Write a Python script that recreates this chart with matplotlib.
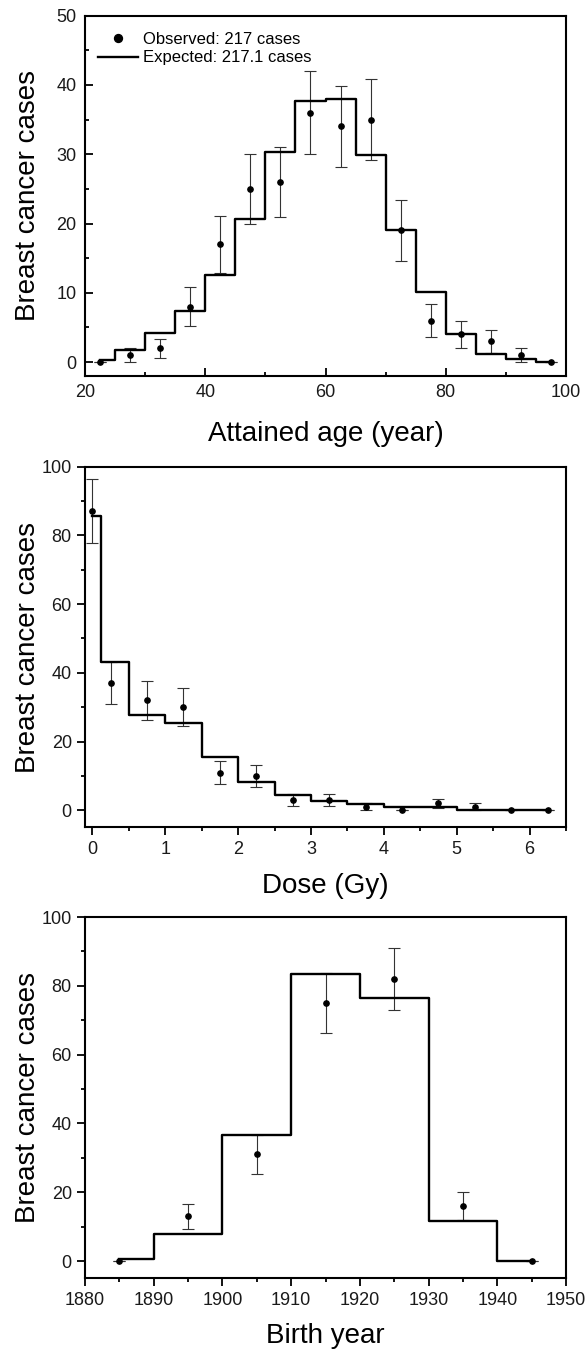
import matplotlib
matplotlib.use('Agg')
from matplotlib import pyplot as plt
from matplotlib.ticker import MultipleLocator

plt.rcParams['font.family'] = ['Liberation Sans', 'DejaVu Sans']

# attained age
age_x = [22.5, 27.5, 32.5, 37.5, 42.5, 47.5, 52.5, 57.5, 62.5, 67.5, 72.5, 77.5, 82.5, 87.5, 92.5, 97.5]
age_obs = [0, 1, 2, 8, 17, 25, 26, 36, 34, 35, 19, 6, 4, 3, 1, 0]
age_err = [0, 1, 1.4, 2.8, 4.1, 5, 5.1, 6, 5.8, 5.9, 4.4, 2.4, 2, 1.7, 1, 0]
age_exp = [0.3, 1.8, 4.2, 7.4, 12.6, 20.6, 30.3, 37.7, 38.0, 29.9, 19.0, 10.1, 4.1, 1.2, 0.4, 0.0]

# dose
dose_x = [0, 0.25, 0.75, 1.25, 1.75, 2.25, 2.75, 3.25, 3.75, 4.25, 4.75, 5.25, 5.75, 6.25]
dose_obs = [87, 37, 32, 30, 11, 10, 3, 3, 1, 0, 2, 1, 0, 0]
dose_err = [9.3, 6.1, 5.7, 5.5, 3.3, 3.2, 1.7, 1.7, 1, 0, 1.4, 1, 0, 0]
dose_exp = [85.7, 43.3, 27.7, 25.4, 15.5, 8.3, 4.4, 2.8, 1.7, 0.9, 0.85, 0.2, 0.05, 0.15]

# birth year
birth_x = [1885, 1895, 1905, 1915, 1925, 1935, 1945]
birth_obs = [0, 13, 31, 75, 82, 16, 0]
birth_err = [0, 3.6, 5.6, 8.7, 9.1, 4, 0]
birth_exp = [0.6, 7.9, 36.8, 83.5, 76.6, 11.7, 0.0]

n_obs = 217
n_exp = 217.1

fig = plt.figure(figsize=(5.88, 13.53), dpi=100)
ax1 = fig.add_axes([0.1446, 0.7221, 0.818, 0.2664])
ax2 = fig.add_axes([0.1446, 0.3884, 0.818, 0.2667])
ax3 = fig.add_axes([0.1446, 0.0552, 0.818, 0.2670])


def panel(ax, x, obs, err, exp, xlabel, tick_dir):
    ax.errorbar(x, obs, yerr=err, fmt='none', ecolor='#333333', elinewidth=0.8,
                capsize=4, capthick=0.8, zorder=2)
    ax.plot(x, exp, drawstyle='steps-mid', color='black', lw=1.7, zorder=3,
            label=f'Expected: {n_exp} cases')
    ax.plot(x, obs, 'o', color='black', ms=3.8, zorder=4,
            label=f'Observed: {n_obs} cases')
    for s in ax.spines.values():
        s.set_linewidth(1.5)
    ax.tick_params(which='both', direction=tick_dir, width=1.3, labelsize=13,
                   colors='black', labelcolor='#1a1a1a')
    ax.tick_params(which='major', length=5.5)
    ax.tick_params(which='minor', length=3)
    if tick_dir == 'in':
        ax.tick_params(which='major', pad=6)
    else:
        ax.tick_params(which='major', pad=4)
    ax.set_xlabel(xlabel, fontsize=20)
    ax.set_ylabel('Breast cancer cases', fontsize=20)
    ax.xaxis.set_label_coords(0.5, -0.125)
    ax.yaxis.set_label_coords(-0.092, 0.5)


panel(ax1, age_x, age_obs, age_err, age_exp, 'Attained age (year)', 'in')
ax1.set_xlim(20, 100)
ax1.set_ylim(-2, 50)
ax1.xaxis.set_major_locator(MultipleLocator(20))
ax1.xaxis.set_minor_locator(MultipleLocator(10))
ax1.yaxis.set_major_locator(MultipleLocator(10))
ax1.yaxis.set_minor_locator(MultipleLocator(5))
h, l = ax1.get_legend_handles_labels()
ax1.legend(h[::-1], l[::-1], loc='upper left', bbox_to_anchor=(0.027, 0.955),
           frameon=False, fontsize=12, borderpad=0, borderaxespad=0,
           handlelength=2.4, handletextpad=0.3, labelspacing=0.22, markerscale=1.5)

panel(ax2, dose_x, dose_obs, dose_err, dose_exp, 'Dose (Gy)', 'out')
ax2.set_xlim(-0.1, 6.5)
ax2.set_ylim(-5, 100)
ax2.xaxis.set_major_locator(MultipleLocator(1))
ax2.xaxis.set_minor_locator(MultipleLocator(0.5))
ax2.yaxis.set_major_locator(MultipleLocator(20))
ax2.yaxis.set_minor_locator(MultipleLocator(10))

panel(ax3, birth_x, birth_obs, birth_err, birth_exp, 'Birth year', 'out')
ax3.set_xlim(1880, 1950)
ax3.set_ylim(-5, 100)
ax3.xaxis.set_major_locator(MultipleLocator(10))
ax3.xaxis.set_minor_locator(MultipleLocator(5))
ax3.yaxis.set_major_locator(MultipleLocator(20))
ax3.yaxis.set_minor_locator(MultipleLocator(10))

fig.savefig('out.png', dpi=100)
